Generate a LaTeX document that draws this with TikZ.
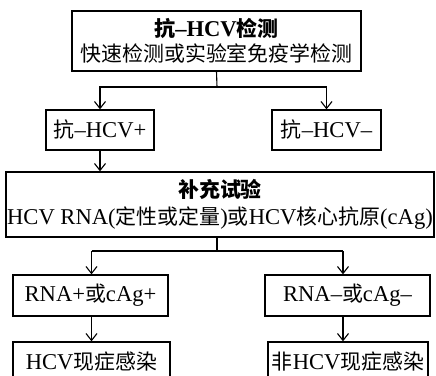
\documentclass[tikz,border=0pt]{standalone}
\usepackage{fontspec}
\setmainfont{Liberation Serif}[Scale=1.08]
\newfontfamily\cjk{Noto Sans CJK SC}
\newcommand\zhs[1]{{\cjk #1}}
\usetikzlibrary{arrows.meta}
\begin{document}
\begin{tikzpicture}[x=1bp,y=-1bp,
  box/.style={draw,line width=1.3bp,inner sep=0pt,align=center,font=\fontsize{21}{24}\selectfont},
  conn/.style={line width=1.1bp},
  arr/.style={conn,-{Straight Barb[length=7bp,width=11bp,line width=1.1bp]}}]
\useasboundingbox (0,0) rectangle (436,375);
\node[box,minimum width=289bp,minimum height=60bp] (top) at (216.5,41)
  {\textbf{\zhs{抗}–HCV\zhs{检测}}\\[1pt]\zhs{快速检测或实验室免疫学检测}};
\node[box,minimum width=108bp,minimum height=40bp] (pos) at (100,130) {\zhs{抗}–HCV+};
\node[box,minimum width=109bp,minimum height=40bp] (neg) at (326.5,130) {\zhs{抗}–HCV–};
\node[box,minimum width=428bp,minimum height=65bp] (sup) at (220,204.5)
  {\textbf{\zhs{补充试验}}\\[3pt]HCV RNA(\zhs{定性或定量})\zhs{或}HCV\zhs{核心抗原}(cAg)};
\node[box,minimum width=155bp,minimum height=41bp] (rpos) at (90.5,295.5) {RNA+\zhs{或}cAg+};
\node[box,minimum width=165bp,minimum height=41bp] (rneg) at (347.5,295.5) {RNA–\zhs{或}cAg–};
\node[box,minimum width=157bp,minimum height=40bp] (inf) at (91.5,362) {HCV\zhs{现症感染}};
\node[box,minimum width=160bp,minimum height=40bp] (noinf) at (348,362) {\zhs{非}HCV\zhs{现症感染}};
\coordinate (j1) at (217,87);
\coordinate (j2) at (217,251);
\coordinate (L) at (91.5,251);
\coordinate (R) at (343,251);
\draw[conn] (top.south) -- (j1);
\draw[arr] (j1) -| (pos.north);
\draw[arr] (j1) -| (neg.north);
\draw[arr] (pos.south) -- (pos.south |- sup.north);
\draw[conn] (j2 |- sup.south) -- (j2);
\draw[conn] (L) -- (R);
\draw[arr] (L) -- (L |- rpos.north);
\draw[arr] (R) -- (R |- rneg.north);
\draw[arr] (L |- rpos.south) -- (L |- inf.north);
\draw[arr] (R |- rneg.south) -- (R |- noinf.north);
\end{tikzpicture}
\end{document}
